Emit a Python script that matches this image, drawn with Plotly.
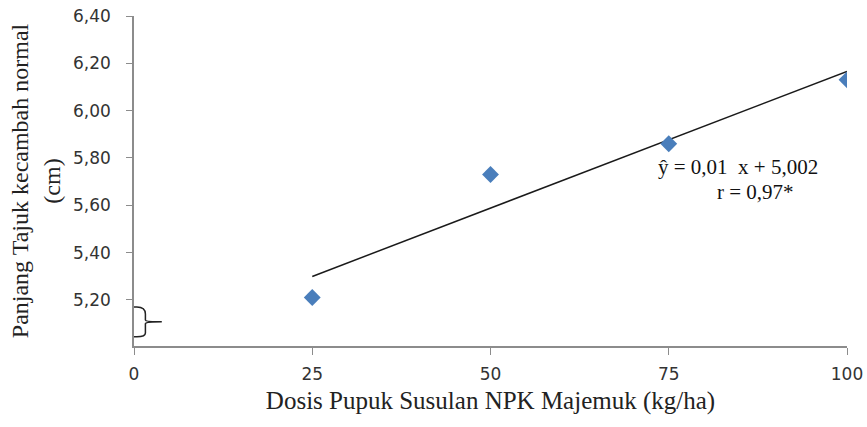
import numpy as np
import plotly.graph_objects as go

# Data
dosis = [25, 50, 75, 100]
panjang = [5.21, 5.73, 5.86, 6.13]
x_ticks = [0, 25, 50, 75, 100]
x_ticktext = ["0", "25", "50", "75", "100"]
y_ticks = [5.20, 5.40, 5.60, 5.80, 6.00, 6.20, 6.40]
y_ticktext = ["5,20", "5,40", "5,60", "5,80", "6,00", "6,20", "6,40"]
eq_text = "ŷ = 0,01  x + 5,002"
r_text = "r = 0,97*"

# Linear trend from data
slope, intercept = np.polyfit(dosis, panjang, 1)
trend_x = [min(dosis), max(dosis)]
trend_y = [slope * v + intercept for v in trend_x]

y_min = 5.005
y_max = 6.40

fig = go.Figure()
fig.add_trace(go.Scatter(x=trend_x, y=trend_y, mode="lines",
                         line=dict(color="#1a1a1a", width=1.5),
                         showlegend=False, hoverinfo="skip"))
fig.add_trace(go.Scatter(x=dosis, y=panjang, mode="markers",
                         marker=dict(symbol="diamond", size=13, color="#4a7ebb",
                                     line=dict(width=0)),
                         showlegend=False))

serif = "Liberation Serif, Times New Roman, serif"
sans = "DejaVu Sans, Verdana, sans-serif"

fig.update_layout(
    width=867, height=427,
    margin=dict(l=134, r=20, t=16, b=81),
    paper_bgcolor="white", plot_bgcolor="white",
    xaxis=dict(range=[0, 100], tickvals=x_ticks, ticktext=x_ticktext,
               automargin=False,
               showgrid=False, zeroline=False, showline=True,
               linecolor="#8c8c8c", linewidth=1.5,
               ticks="outside", ticklen=7, tickcolor="#8c8c8c",
               tickfont=dict(family=sans, size=17, color="#333333"),
               ticklabelstandoff=5,
               title=dict(text="Dosis Pupuk Susulan NPK Majemuk (kg/ha)",
                          font=dict(family=serif, size=25, color="#222222"),
                          standoff=8)),
    yaxis=dict(range=[y_min, y_max], tickvals=y_ticks, ticktext=y_ticktext,
               automargin=False,
               showgrid=False, zeroline=False, showline=True,
               linecolor="#8c8c8c", linewidth=1.5,
               ticks="outside", ticklen=6, tickcolor="#8c8c8c",
               tickfont=dict(family=sans, size=17, color="#333333"),
               ticklabelstandoff=12,
               title=dict(text="Panjang Tajuk kecambah normal<br>(cm)",
                          font=dict(family=serif, size=24, color="#222222"),
                          standoff=6)),
    annotations=[
        dict(x=0.847, y=0.541, xref="paper", yref="paper", text=eq_text,
             xanchor="center", yanchor="middle",
             showarrow=False, font=dict(family=serif, size=21, color="#111111")),
        dict(x=0.871, y=0.466, xref="paper", yref="paper", text=r_text,
             xanchor="center", yanchor="middle",
             showarrow=False, font=dict(family=serif, size=21, color="#111111")),
    ],
    shapes=[
        # axis-break brace
        dict(type="path", xref="x", yref="y",
             path="M -0.8,5.17 L 0.4,5.17 Q 1.6,5.17 1.6,5.14 L 1.6,5.115 Q 1.6,5.107 3.9,5.107 "
                  "Q 1.6,5.107 1.6,5.099 L 1.6,5.06 Q 1.6,5.044 0.4,5.044 L -0.8,5.044",
             line=dict(color="#222222", width=1.5)),
    ],
)

fig.write_html("out.html")
